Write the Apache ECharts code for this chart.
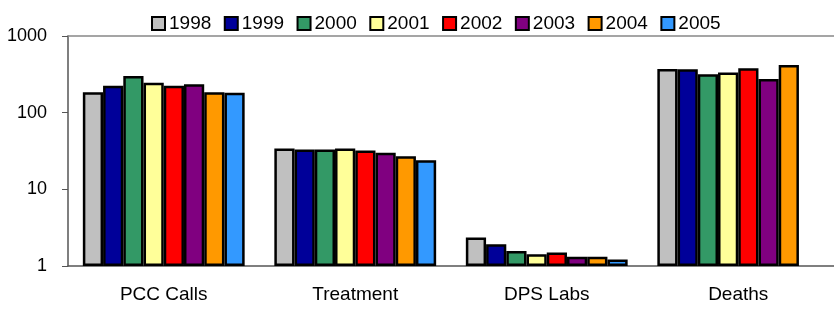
<!DOCTYPE html>
<html>
<head>
<meta charset="utf-8">
<style>
  html, body { margin: 0; padding: 0; background: #fff; }
  #chart-container { width: 834px; height: 309px; }
</style>
<script src="https://cdn.jsdelivr.net/npm/echarts@6/dist/echarts.min.js"></script>
</head>
<body>
<div id="chart-container"></div>
<script>
var categories = ["PCC Calls", "Treatment", "DPS Labs", "Deaths"];
var years = ["1998", "1999", "2000", "2001", "2002", "2003", "2004", "2005"];
var yearColors = ["#C0C0C0", "#000099", "#339966", "#FFFF99", "#FF0000", "#800080", "#FF9900", "#3399FF"];

var v1998 = [184, 34, 2.35, 370];
var v1999 = [224, 33, 1.92, 368];
var v2000 = [300, 33, 1.57, 318];
var v2001 = [245, 34, 1.42, 335];
var v2002 = [224, 32, 1.5, 380];
var v2003 = [235, 30, 1.32, 274];
var v2004 = [184, 27, 1.32, 418];
var v2005 = [182, 24, 1.22, null];
var values = [v1998, v1999, v2000, v2001, v2002, v2003, v2004, v2005];

var yTicks = [1, 10, 100, 1000];

var dom = document.getElementById("chart-container");
var myChart = echarts.init(dom, null, {
  renderer: "canvas",
  useDirtyRect: false,
});

var font = "Liberation Sans, Arial, sans-serif";

var series = years.map(function (y, i) {
  return {
    name: y,
    type: "bar",
    barGap: "0%",
    barCategoryGap: "15.5%",
    itemStyle: {
      color: yearColors[i],
      borderColor: "#000",
      borderWidth: 2.5,
    },
    data: values[i],
  };
});

var option = {
  animation: false,
  legend: {
    data: years,
    left: 146,
    top: 9,
    icon: "rect",
    itemWidth: 13,
    itemHeight: 13,
    itemGap: 12.5,
    textStyle: {
      fontFamily: font,
      fontSize: 19,
      color: "#000",
      padding: [0, 0, 0, -1],
    },
  },
  grid: {
    left: 68,
    top: 36,
    width: 776,
    bottom: 43,
  },
  xAxis: [
    {
      type: "category",
      data: categories,
      axisLine: { lineStyle: { color: "#555", width: 1.5 } },
      axisTick: { length: 5, lineStyle: { color: "#555" } },
      axisLabel: {
        fontFamily: font,
        fontSize: 19,
        color: "#000",
        margin: 19,
      },
    },
    {
      type: "category",
      position: "top",
      data: categories,
      axisLine: { lineStyle: { color: "#888", width: 1.5 } },
      axisTick: { show: false },
      axisLabel: { show: false },
    },
  ],
  yAxis: {
    type: "log",
    logBase: 10,
    min: yTicks[0],
    max: yTicks[yTicks.length - 1],
    interval: 1,
    axisLine: { show: true, lineStyle: { color: "#555", width: 1.5 } },
    axisTick: { show: true, length: 6, lineStyle: { color: "#555" } },
    splitLine: { show: false },
    axisLabel: {
      fontFamily: font,
      fontSize: 18,
      color: "#000",
      margin: 21,
      formatter: function (v) {
        return String(Math.round(v));
      },
    },
  },
  series: series,
};

if (option && typeof option === "object") {
  myChart.setOption(option);
}

window.addEventListener("resize", myChart.resize);
</script>
</body>
</html>
